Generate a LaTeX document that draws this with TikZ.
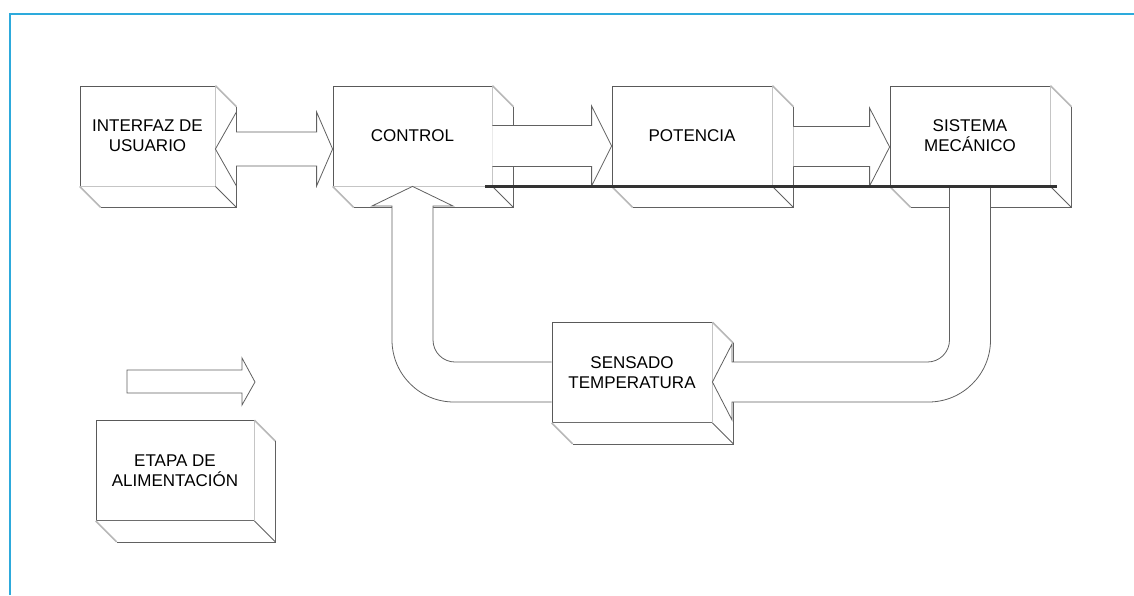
\documentclass[tikz,border=0pt]{standalone}
\usepackage{fontspec}
\setmainfont{Liberation Sans}
\usetikzlibrary{calc}
\definecolor{framecyan}{RGB}{45,170,220}
\newcommand{\stagefont}{\fontsize{17}{20}\selectfont}

% extruded side and bottom faces of a stage box
\newcommand{\blockdepth}[1]{%
  \fill[white] (#1.north east) -- ++(21,21) -- ($(#1.south east)+(21,21)$)
    -- ($(#1.south west)+(21,21)$) -- (#1.south west) -- (#1.south east) -- cycle;
  \draw[bevelline] (#1.north east) -- ++(21,21);
  \draw[boxline] ($(#1.north east)+(21,21)$) -- ($(#1.south east)+(21,21)$)
    -- ($(#1.south west)+(21,21)$);
  \draw[bevelline] ($(#1.south west)+(21,21)$) -- (#1.south west);
  \draw[boxline] (#1.south east) -- ++(21,21);
}

\begin{document}
\begin{tikzpicture}[x=1pt,y=-1pt,
  stage/.style={draw=black!65, line width=0.8pt, fill=white, inner sep=0pt,
    minimum width=160pt, minimum height=100pt, align=center, font=\stagefont},
  boxline/.style={draw=black!62, line width=0.8pt},
  bevelline/.style={draw=black!28, line width=1.6pt},
  blockarrow/.style={fill=white, draw=black!62, line width=0.8pt, line join=miter},
  busline/.style={draw=black!80, line width=2.4pt},
  frameline/.style={draw=framecyan, line width=2.6pt}]

\useasboundingbox (0,0) rectangle (1134,595);

% outer frame
\draw[frameline] (10,595) -- (10,14) -- (1134,14);

% stages
\node[stage, minimum width=135pt] (ui) at (147.5,136) {INTERFAZ DE\\USUARIO};
\node[stage, minimum width=159pt] (ctl) at (412.5,136) {CONTROL};
\node[stage] (pot) at (692,136) {POTENCIA};
\node[stage] (mec) at (970,136) {SISTEMA\\MECÁNICO};
\node[stage] (sen) at (632,372.5) {SENSADO\\TEMPERATURA};
\node[stage, minimum width=158pt] (psu) at (175,470.5) {ETAPA DE\\ALIMENTACIÓN};

\blockdepth{ui}
\blockdepth{ctl}
\blockdepth{pot}
\blockdepth{mec}
\blockdepth{sen}
\blockdepth{psu}

% interface <-> control (two-way block arrow)
\coordinate (uiTip) at ($(ui.east)+(0,13)$);
\coordinate (ctlTip) at ($(ctl.west)+(0,13)$);
\filldraw[blockarrow] (uiTip) -- ++(21,-37) -- ++(0,20)
  -- ($(ctlTip)+(-16,-17)$) -- ++(0,-20) -- (ctlTip) -- ++(-16,37) -- ++(0,-20)
  -- ($(uiTip)+(21,17)$) -- ++(0,20) -- cycle;

% control -> power
\filldraw[blockarrow] ($(ctl.east)+(0,-10.5)$) -- ($(pot.west)+(-20,-10.5)$)
  -- ($(pot.west)+(-20,-30)$) -- ($(pot.west)+(0,10)$) -- ($(pot.west)+(-20,50)$)
  -- ($(pot.west)+(-20,30.5)$) -- ($(ctl.east)+(0,30.5)$);

% power -> mechanical system
\filldraw[blockarrow] ($(pot.east)+(21,-9.5)$) -- ($(mec.west)+(-20,-9.5)$)
  -- ($(mec.west)+(-20,-28)$) -- ($(mec.west)+(0,11)$) -- ($(mec.west)+(-20,50)$)
  -- ($(mec.west)+(-20,30.5)$) -- ($(pot.east)+(21,30.5)$);

% mechanical system -> temperature sensing
\coordinate (mecIn) at ($(mec.south)+(-20.5,0)$);
\coordinate (mecOut) at ($(mec.south)+(20.5,0)$);
\coordinate (senTip) at ($(sen.east)+(0,9.5)$);
\filldraw[blockarrow] (mecIn) -- (949.5,340) .. controls (949.5,352.15) and (939.65,362) ..
  (927.5,362) -- (732,362) -- (732,344) -- (senTip) -- (732,420) -- (732,402)
  -- (928.5,402) .. controls (962.76,402) and (990.5,374.24) .. (990.5,340) -- (mecOut);

% temperature sensing -> control
\filldraw[blockarrow] ($(sen.west)+(0,-10.5)$) -- (455,362)
  .. controls (442.85,362) and (433,352.15) .. (433,340) -- (433,206) -- (453,206)
  -- (ctl.south) -- (372,206) -- (392,206) -- (392,340)
  .. controls (392,374.24) and (419.76,402) .. (454,402) -- ($(sen.west)+(0,29.5)$);

% common line under the power chain
\draw[busline] ($(ctl.south east)+(-7,0)$) -- ($(mec.south east)+(7,0)$);

% legend arrow
\filldraw[blockarrow] (127,370) -- (242,370) -- (242,358) -- (255,382) -- (242,405)
  -- (242,393) -- (127,393) -- cycle;

\end{tikzpicture}
\end{document}
